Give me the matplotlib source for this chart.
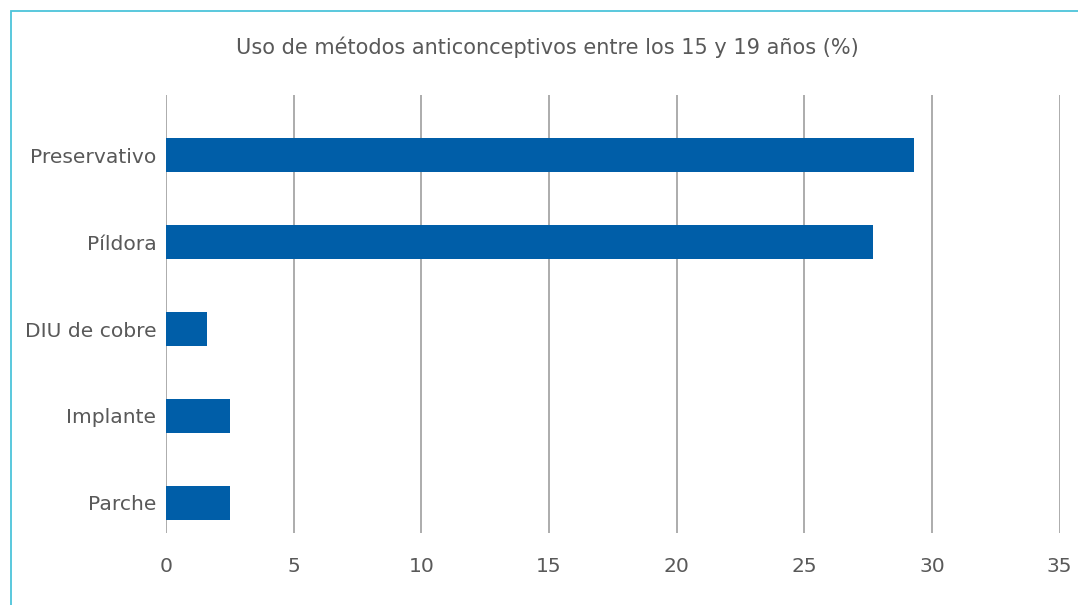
import matplotlib.pyplot as plt
from matplotlib.patches import Rectangle

# Contraceptive use among 15-19 year olds (%)
metodos = ['Preservativo', 'Píldora', 'DIU de cobre', 'Implante', 'Parche']
porcentajes = [29.3, 27.7, 1.6, 2.5, 2.5]
x_ticks = [0, 5, 10, 15, 20, 25, 30, 35]

BAR_COLOR = '#005EA8'
TEXT_COLOR = '#595959'
GRID_COLOR = '#A6A6A6'
BORDER_COLOR = '#4CC4DA'
FONT_SIZE = 14.6

plt.rcParams['font.family'] = ['DejaVu Sans']

fig = plt.figure(figsize=(10.78, 6.05), dpi=100)
ax = fig.add_axes([0.154, 0.119, 0.829, 0.724])

y_pos = list(range(len(metodos)))
ax.barh(y_pos, porcentajes, height=0.4, color=BAR_COLOR, zorder=3)
ax.set_yticks(y_pos)
ax.set_yticklabels(metodos)
# categories sit a little lower than centred in the plot area
ax.set_ylim(4.345, -0.69)

ax.set_xlim(0, 35)
ax.set_xticks(x_ticks)
ax.xaxis.grid(True, color=GRID_COLOR, linewidth=1.3, zorder=0)
ax.yaxis.grid(False)

for side in ['top', 'right', 'bottom', 'left']:
    ax.spines[side].set_visible(False)

ax.tick_params(axis='both', length=0, labelsize=FONT_SIZE, colors=TEXT_COLOR)
ax.tick_params(axis='x', pad=17.5)
ax.tick_params(axis='y', pad=7)

fig.text(0.508, 0.922, 'Uso de métodos anticonceptivos entre los 15 y 19 años (%)',
         ha='center', va='center', fontsize=15, color=TEXT_COLOR)

# thin cyan frame around the chart area
fig.patches.append(Rectangle((11 / 1078, -0.05), 1.1, 1 - 11 / 605 + 0.05,
                             transform=fig.transFigure, fill=False,
                             edgecolor=BORDER_COLOR, linewidth=1.3))

fig.savefig('out.png', dpi=100)
